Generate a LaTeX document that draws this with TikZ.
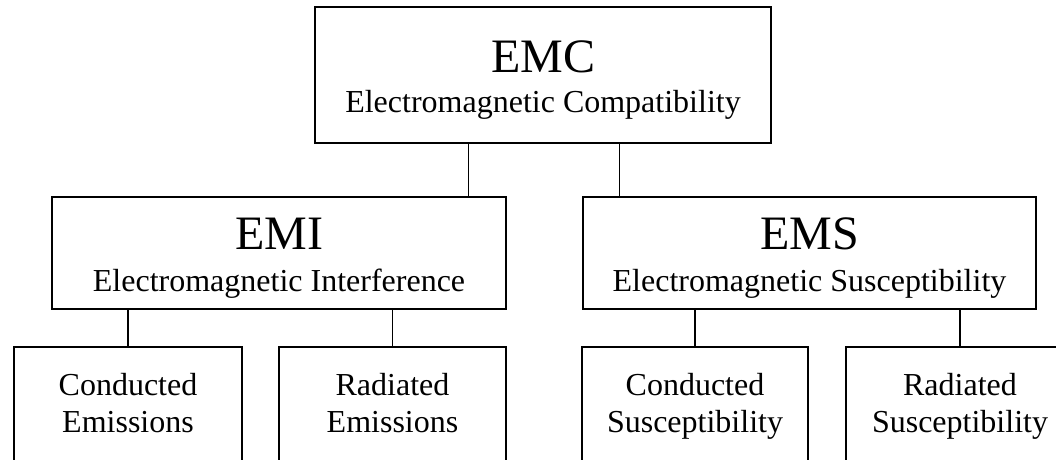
\documentclass[tikz,border=0pt]{standalone}
\usepackage{fontspec}
\setmainfont{Liberation Serif}
\begin{document}
\begin{tikzpicture}[x=1pt,y=-1pt,
  box/.style={draw=black,line width=1.8pt,rectangle,inner sep=0pt,outer sep=0pt},
  conn/.style={draw=black,line width=1.8pt},
  big/.style={anchor=base,inner sep=0pt,font=\fontsize{48}{56}\selectfont},
  small/.style={anchor=base,inner sep=0pt,font=\fontsize{32}{37}\selectfont}]
\useasboundingbox (0,0) rectangle (1056,459);
\clip (0,0) rectangle (1056,459);
% boxes
\node[box,minimum width=456pt,minimum height=136pt] (emc) at (543,75) {};
\node[box,minimum width=454pt,minimum height=112pt] (emi) at (279,253) {};
\node[box,minimum width=453pt,minimum height=112pt] (ems) at (809.5,253) {};
\node[box,minimum width=228pt,minimum height=120pt] (ce) at (128,407) {};
\node[box,minimum width=227pt,minimum height=120pt] (re) at (392.5,407) {};
\node[box,minimum width=226pt,minimum height=120pt] (cs) at (695,407) {};
\node[box,minimum width=228pt,minimum height=120pt] (rs) at (960,407) {};
% texts
\node[big] (t1) at (543,72) {EMC};
\node[small] (t2) at (543,112) {Electromagnetic Compatibility};
\node[big] (t3) at (279,249) {EMI};
\node[small] (t4) at (279,291) {Electromagnetic Interference};
\node[big] (t5) at (809.5,249) {EMS};
\node[small] (t6) at (809.5,291) {Electromagnetic Susceptibility};
\node[small] (t7) at (128,395) {Conducted};
\node[small] (t8) at (128,432) {Emissions};
\node[small] (t9) at (392.5,395) {Radiated};
\node[small] (t10) at (392.5,432) {Emissions};
\node[small] (t11) at (695,395) {Conducted};
\node[small] (t12) at (695,432) {Susceptibility};
\node[small] (t13) at (960,395) {Radiated};
\node[small] (t14) at (960,432) {Susceptibility};
% connectors
\draw[conn] ([xshift=-74.5pt]emc.south) -- ([xshift=-74.5pt]emc.south |- emi.north);
\draw[conn] ([xshift=76.5pt]emc.south) -- ([xshift=76.5pt]emc.south |- ems.north);
\draw[conn] (ce.north |- emi.south) -- (ce.north);
\draw[conn] (re.north |- emi.south) -- (re.north);
\draw[conn] (cs.north |- ems.south) -- (cs.north);
\draw[conn] (rs.north |- ems.south) -- (rs.north);
\end{tikzpicture}
\end{document}
